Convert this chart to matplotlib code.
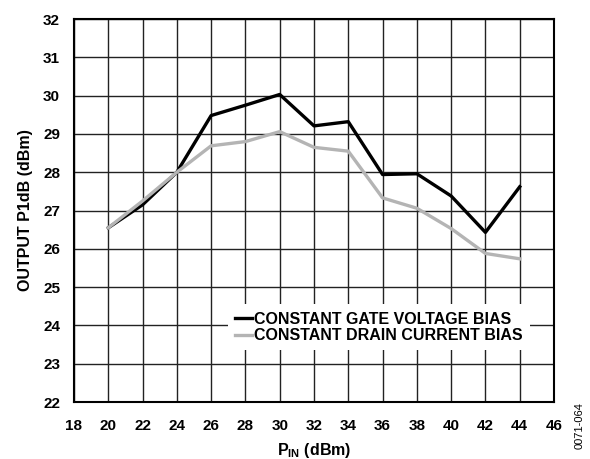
import numpy as np
import matplotlib.pyplot as plt

plt.rcParams['font.family'] = ['Liberation Sans', 'DejaVu Sans']
plt.rcParams['font.weight'] = 'bold'
plt.rcParams['mathtext.fontset'] = 'custom'
plt.rcParams['mathtext.bf'] = 'Liberation Sans:bold'
plt.rcParams['mathtext.rm'] = 'Liberation Sans:bold'

# input power sweep and measured P1dB for the two bias modes
pin = [20, 22, 24, 26, 28, 30, 32, 34, 36, 38, 40, 42, 44]
p1db_gate = [26.55, 27.15, 28.0, 29.48, 29.75, 30.03, 29.21, 29.32, 27.94, 27.96, 27.38, 26.43, 27.62]
p1db_drain = [26.55, 27.25, 28.0, 28.69, 28.8, 29.06, 28.65, 28.55, 27.33, 27.06, 26.53, 25.88, 25.74]

fig = plt.figure(figsize=(5.9, 4.59), dpi=100)
ax = fig.add_axes([0.1254, 0.124, 0.8136, 0.8346])

ax.plot(pin, p1db_gate, color='black', lw=2.4, label='CONSTANT GATE VOLTAGE BIAS', zorder=3)
ax.plot(pin, p1db_drain, color='#b4b4b4', lw=2.4, label='CONSTANT DRAIN CURRENT BIAS', zorder=3)

ax.set_xlim(18, 46)
ax.set_ylim(22, 32)
ax.set_xticks(np.arange(18, 47, 2))
ax.set_yticks(np.arange(22, 33, 1))
ax.grid(True, color='#222222', lw=1.0)
ax.set_axisbelow(True)
ax.tick_params(axis='x', length=0, labelsize=11, pad=12)
ax.tick_params(axis='y', length=0, labelsize=11, pad=10)
for sp in ax.spines.values():
    sp.set_linewidth(1.5)
    sp.set_color('black')

ax.set_xlabel(r'P$_{\mathbf{IN}}$ (dBm)', fontsize=11.5, fontweight='bold')
ax.xaxis.label.set_va('baseline')
ax.xaxis.set_label_coords(0.5, -0.138)
ax.set_ylabel('OUTPUT P1dB (dBm)', fontsize=11.5, fontweight='bold', labelpad=7)

leg = ax.legend(loc='lower left', bbox_to_anchor=(0.32, 0.135), frameon=True,
                fontsize=11.5, handlelength=1.1, handletextpad=0.1,
                labelspacing=0.1, borderpad=0.45, borderaxespad=0)
leg.get_frame().set_edgecolor('none')
leg.get_frame().set_facecolor('white')
leg.get_frame().set_alpha(1)
leg.get_frame().set_boxstyle('square', pad=0)

fig.text(0.983, 0.072, '0071-064', rotation=90, fontsize=8, fontweight='normal',
         ha='center', va='center')

fig.savefig('out.png', dpi=100)
